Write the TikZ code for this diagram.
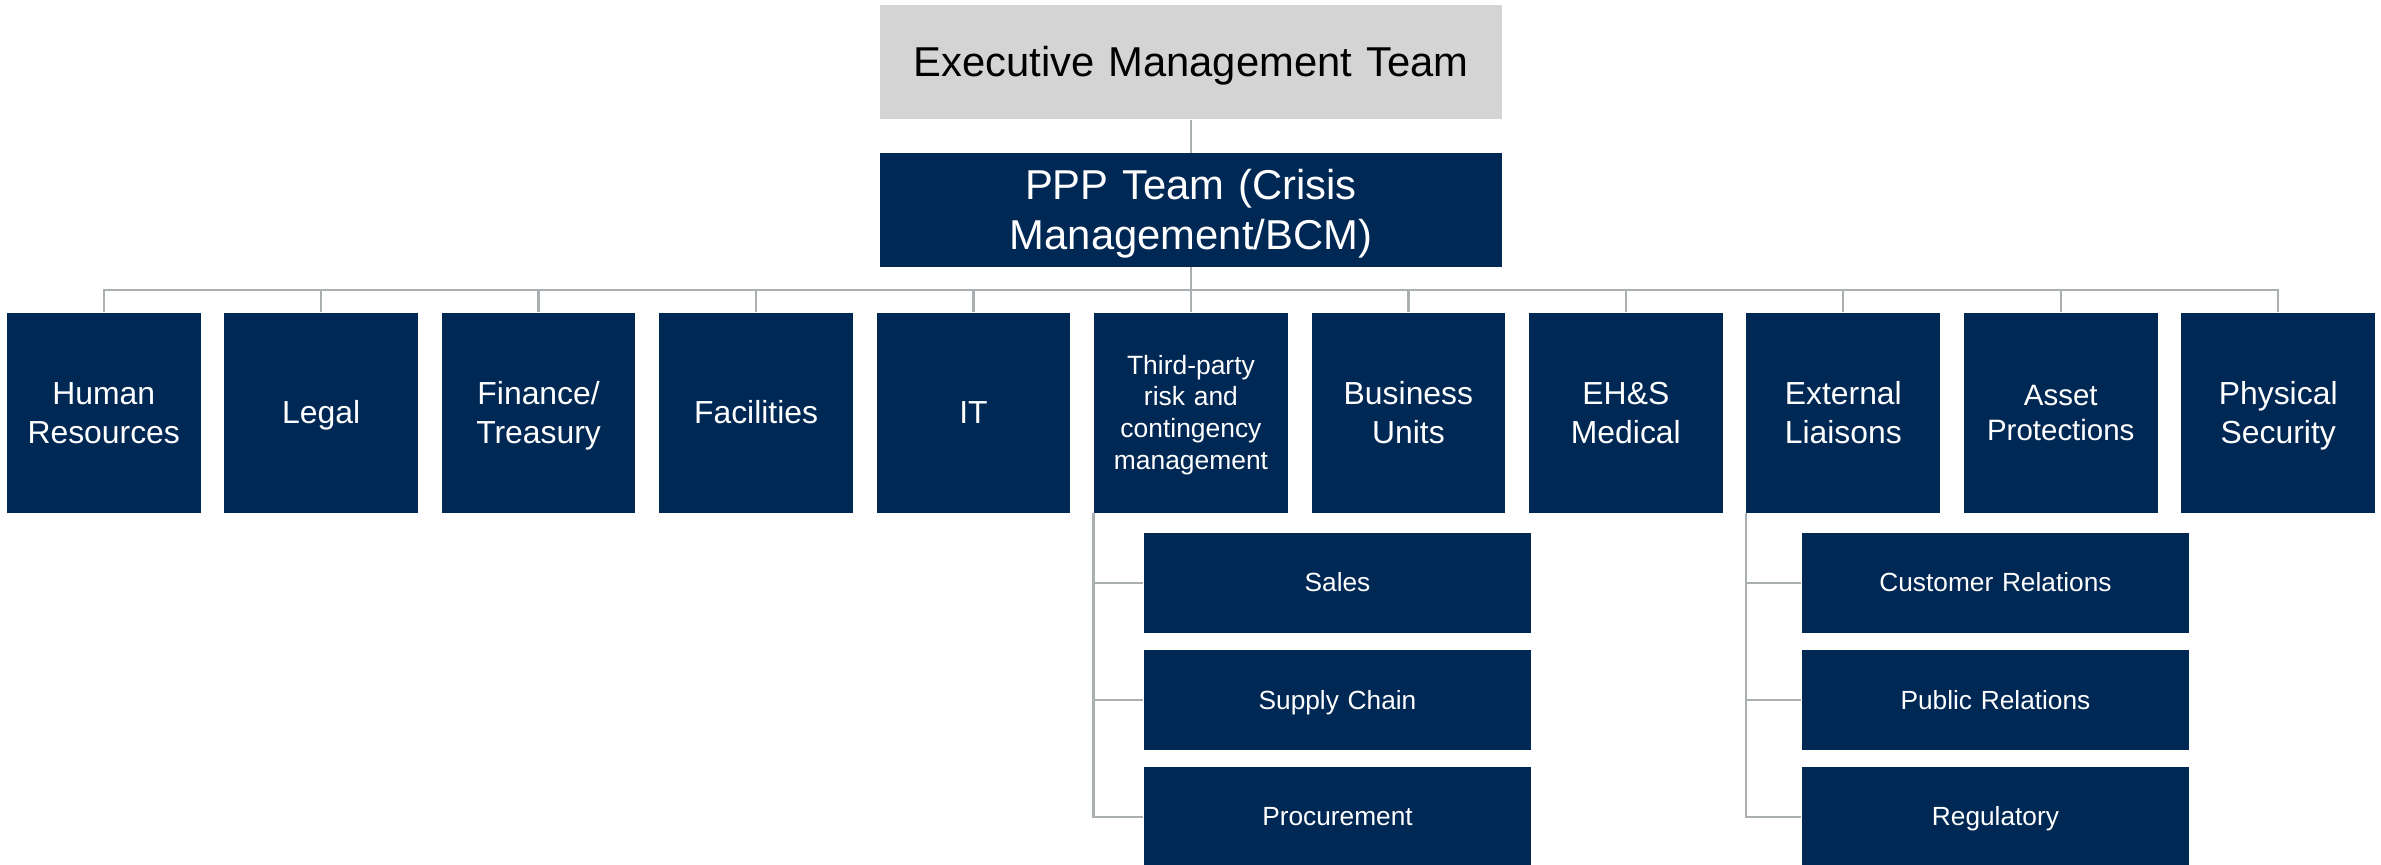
\documentclass[tikz,border=0pt]{standalone}
\usepackage{fontspec}
\setmainfont{Liberation Sans}
\usepackage{xcolor}
\definecolor{azulMarino}{RGB}{0, 40, 85}
\definecolor{grisClaro}{RGB}{212, 212, 212}
\definecolor{grisLinea}{RGB}{170, 176, 178}
\usepackage{tikz}
\usetikzlibrary{calc,positioning}
\newcommand{\puntal}{\rule[-0.212em]{0pt}{1.117em}}
\tikzstyle{edge}  =[grisLinea, line width=0.75pt]
\tikzstyle{caja}  =[rectangle, inner sep=0pt, align=center,
                    execute at begin node=\puntal,
                    execute at end node=\puntal]
\tikzstyle{jefe}  =[caja, fill=grisClaro, text=black,
                    text width=205pt, minimum height=37.65pt,
                    font=\fontsize{13.75}{16.5}\selectfont]
\tikzstyle{equipo}=[caja, fill=azulMarino, text=white,
                    text width=205pt, minimum height=37.3pt,
                    font=\fontsize{13.75}{16.5}\selectfont]
\tikzstyle{area}  =[caja, fill=azulMarino, text=white,
                    text width=63.8pt, minimum height=65.75pt,
                    font=\fontsize{10.5}{12.8}\selectfont]
\tikzstyle{sub}   =[caja, fill=azulMarino, text=white,
                    text width=127.4pt, minimum height=32.85pt,
                    font=\fontsize{8.65}{10.4}\selectfont]

\begin{document}
\begin{tikzpicture}[x=0.5pt,y=-0.5pt]
    \useasboundingbox (0,0) rectangle (1568,569.6);

    \draw (784.3,40.95) node (emt) [jefe] {Executive Management Team};
    \draw (784.3,138.3) node (ppp) [equipo] {PPP Team (Crisis\\Management/BCM)};
    \coordinate (bar) at (784.3,191);

    \draw (68.3,271.75) node (1) [area] {Human\\Resources};
    \draw (211.5,271.75) node (2) [area] {Legal};
    \draw (354.7,271.75) node (3) [area] {Finance/\\Treasury};
    \draw (497.9,271.75) node (4) [area] {Facilities};
    \draw (641.1,271.75) node (5) [area] {IT};
    \draw (784.3,271.75) node (6) [area,font=\fontsize{8.7}{10.45}\selectfont]
        {Third-party\\risk and\\contingency\\management};
    \draw (927.5,271.75) node (7) [area] {Business\\Units};
    \draw (1070.7,271.75) node (8) [area] {EH\&S\\Medical};
    \draw (1213.9,271.75) node (9) [area] {External\\Liaisons};
    \draw (1357.1,271.75) node (10) [area,font=\fontsize{9.7}{11.7}\selectfont]
        {Asset\\Protections};
    \draw (1500.3,271.75) node (11) [area] {Physical\\Security};

    \draw (880.8,383.85) node (6a) [sub] {Sales};
    \draw (880.8,461.2) node (6b) [sub] {Supply Chain};
    \draw (880.8,537.9) node (6c) [sub] {Procurement};
    \draw (1314.1,383.85) node (9a) [sub] {Customer Relations};
    \draw (1314.1,461.2) node (9b) [sub] {Public Relations};
    \draw (1314.1,537.9) node (9c) [sub] {Regulatory};

    \draw [edge] (emt) to (ppp);
    \draw [edge] (ppp) to (bar);
    \foreach \i in{1,...,11}
    \draw [edge] (bar) -| (\i.north);
    \foreach \i/\j in{6/6a,6/6b,6/6c,9/9a,9/9b,9/9c}
    \draw [edge] (\i.south west) |- (\j.west);

\end{tikzpicture}
\end{document}
